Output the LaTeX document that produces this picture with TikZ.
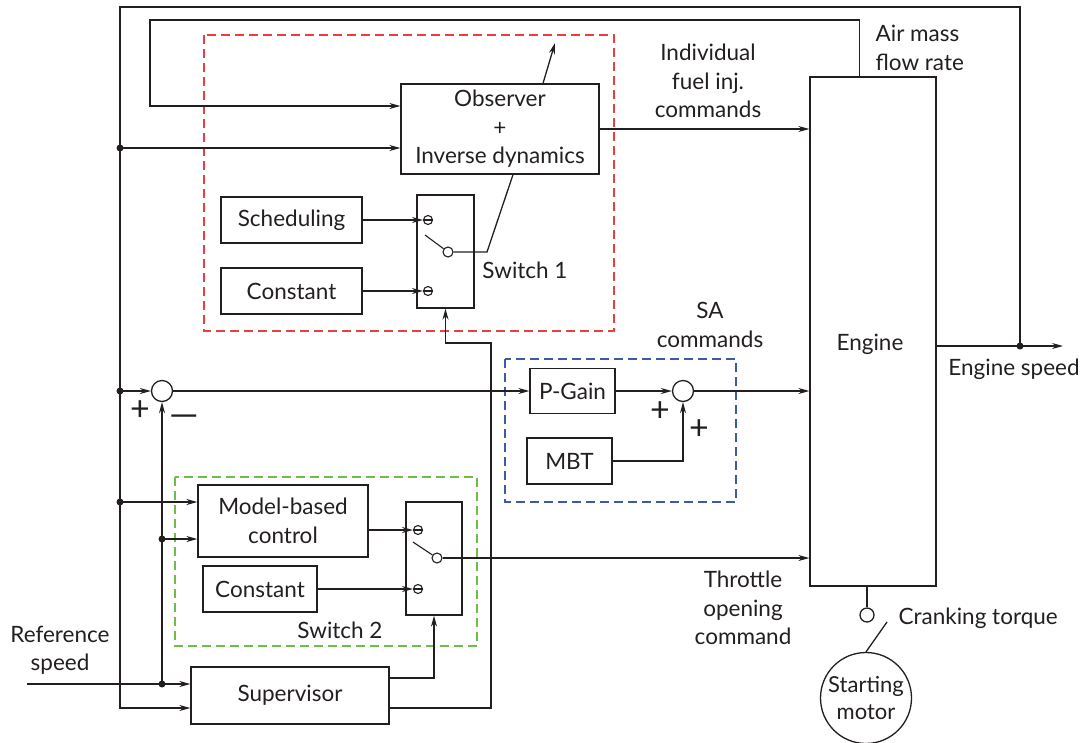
\documentclass[tikz,border=0pt]{standalone}
\usepackage{fontspec}
\usepackage{graphicx}
\setmainfont{Lato}
\usetikzlibrary{arrows.meta,calc}
\definecolor{dred}{RGB}{232,64,64}
\definecolor{dblue}{RGB}{60,90,170}
\definecolor{dgreen}{RGB}{110,190,70}
\definecolor{ink}{RGB}{35,31,32}
\begin{document}
\begin{tikzpicture}[x=1pt,y=-1pt, line width=1.3pt, draw=ink, text=ink,
  font=\fontsize{22.5}{28.5}\selectfont,
  box/.style={draw, rectangle, inner sep=0pt, align=center},
  arr/.style={-{Stealth[length=11pt,width=6pt]}},
  dot/.style={circle, fill=ink, draw=none, inner sep=0pt, minimum size=7pt},
  contact/.style={circle, draw, inner sep=0pt, minimum size=9pt, line width=1.1pt,
    path picture={\draw[line width=1.1pt] (path picture bounding box.west) -- (path picture bounding box.east);}},
  pivot/.style={circle, draw, fill=white, inner sep=0pt, minimum size=10pt, line width=1.1pt},
  sumnode/.style={circle, draw, inner sep=0pt, minimum size=21pt},
  grp/.style={dashed, dash pattern=on 9pt off 5pt, line width=1.3pt},
  lbl/.style={align=center, inner sep=0pt},
  sgn/.style={inner sep=0pt, font=\fontsize{34}{34}\selectfont}
]
\useasboundingbox (0,0) rectangle (1086,742);

% dashed groups
\draw[grp, draw=dred] (204,35) rectangle (614,331);
\draw[grp, draw=dblue] (505,359) rectangle (736,502);
\draw[grp, draw=dgreen] (175,477) rectangle (477,646);

% blocks
\node[box, minimum width=198pt, minimum height=90pt] (obs) at (500,129) {Observer\\+\\Inverse dynamics};
\node[box, minimum width=141pt, minimum height=46pt] (sched) at (291.5,220) {Scheduling};
\node[box, minimum width=141pt, minimum height=46pt] (const1) at (291.5,291) {Constant};
\node[box, minimum width=57pt, minimum height=113pt] (s1box) at (445.5,251.5) {};
\node[box, minimum width=85pt, minimum height=45pt] (pg) at (572.5,391) {P-Gain};
\node[box, minimum width=85pt, minimum height=46pt] (mbt) at (569.5,461) {MBT};
\node[box, minimum width=126pt, minimum height=509pt] (eng) at (873,331.5) {};
\node[lbl] (englbl) at (870,344) {Engine};
\node[box, minimum width=170pt, minimum height=72pt] (mbc) at (283,521) {Model-based\\control};
\node[box, minimum width=114pt, minimum height=46pt] (const2) at (260,589) {Constant};
\node[box, minimum width=56pt, minimum height=113pt] (s2box) at (434,558.5) {};
\node[box, minimum width=198pt, minimum height=57pt] (sup) at (290,695.5) {Supervisor};
\node[sumnode] (sum1) at (162,391) {};
\node[sumnode] (sum2) at (683,391) {};
\node[circle, draw, inner sep=0pt, minimum size=91pt, align=center, font=\fontsize{22}{27}\selectfont] (motor) at (866,698) {Starting\\motor};
\node[circle, draw, inner sep=0pt, minimum size=14pt] (ct) at (867,615) {};

% switch 1 internals
\node[contact] (c1a) at (428,220) {};
\node[contact] (c1b) at (428,291) {};
\node[pivot] (p1) at (448,252) {};
\coordinate (l1) at (425,235);
% switch 2 internals
\node[contact] (c2a) at (418,530) {};
\node[contact] (c2b) at (418,589) {};
\node[pivot] (p2) at (437,558) {};
\coordinate (l2) at (413,542);

% junctions and free ends
\coordinate (jA) at (120,148);
\coordinate (jB) at (120,391);
\coordinate (jC) at (120,502);
\coordinate (jD) at (162,539);
\coordinate (jR) at (162,684);
\coordinate (jE) at (1020,346);
\coordinate (refin) at (27,684);
\coordinate (eout) at (1063,346);
\coordinate (obsout) at (555,43);
\coordinate (ctk) at (887,622);

% outer loop (engine speed)
\draw[arr] (jE) |- (120,7) |- ($(sup.west)+(0,12.5)$);
% air mass flow loop
\draw[arr] ($(eng.north west)+(50,0)$) |- (150,20) |- ($(obs.west)+(0,-23)$);
\draw[arr] (jA) -- (obs.west|-jA);
\draw[arr] ($(obs.north)+(43,0)$) -- (obsout);
\draw[arr] (obs.east) -- (eng.west|-obs.east);

% switch 1
\draw[arr] (sched.east) -- (c1a.west);
\draw[arr] (const1.east) -- (c1b.west);
\draw[line width=1.1pt] (l1) -- (p1);
\draw (p1.east) -- (487,252) -- ($(obs.south)+(13,0)$);
\draw[arr] ($(sup.east)+(0,12.5)$) -| (491,343) -| (s1box.south);

% speed error path
\draw[arr] (jB) -- (sum1.west);
\draw[arr] (jR) -- (sum1.south);
\draw[arr] (sum1.east) -- (pg.west);
\draw[arr] (pg.east) -- (sum2.west);
\draw[arr] (mbt.east) -| (sum2.south);
\draw[arr] (sum2.east) -- (eng.west|-sum2.east);

% switch 2
\draw[arr] (jC) -- (mbc.west|-jC);
\draw[arr] (jD) -- (mbc.west|-jD);
\draw[arr] (mbc.east|-c2a) -- (c2a.west);
\draw[arr] (const2.east) -- (c2b.west);
\draw[line width=1.1pt] (l2) -- (p2);
\draw[arr] (p2.east) -- (eng.west|-p2.east);
\draw[arr] ($(sup.east)+(0,-17.5)$) -| (s2box.south);

% supervisor
\draw[arr] (refin) -- (sup.west|-jR);

% engine output
\draw[arr] (eng.east|-jE) -- (eout);

% cranking
\draw ($(eng.south)+(-6,0)$) -- (ct.north);
\draw (ctk) -- (motor.north);

% dots
\foreach \j in {jA,jB,jC,jD,jR,jE} \node[dot] at (\j) {};

% labels
\node[lbl] at (708,81) {Individual\\fuel inj.\\commands};
\node[lbl, anchor=west, align=left] at (875,48) {Air mass\\flow rate};
\node[lbl] at (710,325) {SA\\commands};
\node[lbl] at (1014,369) {Engine speed};
\node[lbl] at (525,270) {Switch 1};
\node[lbl] at (340,630) {Switch 2};
\node[lbl] at (743,608) {Throttle\\opening\\command};
\node[lbl] at (60,650) {Reference\\speed};
\node[lbl, anchor=west] at (898,618) {Cranking torque};
\node[sgn] at (140,411) {+};
\node[sgn] at (184,421) {\scalebox{1.7}[1]{−}};
\node[sgn] at (660,412) {+};
\node[sgn] at (699,430) {+};
\end{tikzpicture}
\end{document}
